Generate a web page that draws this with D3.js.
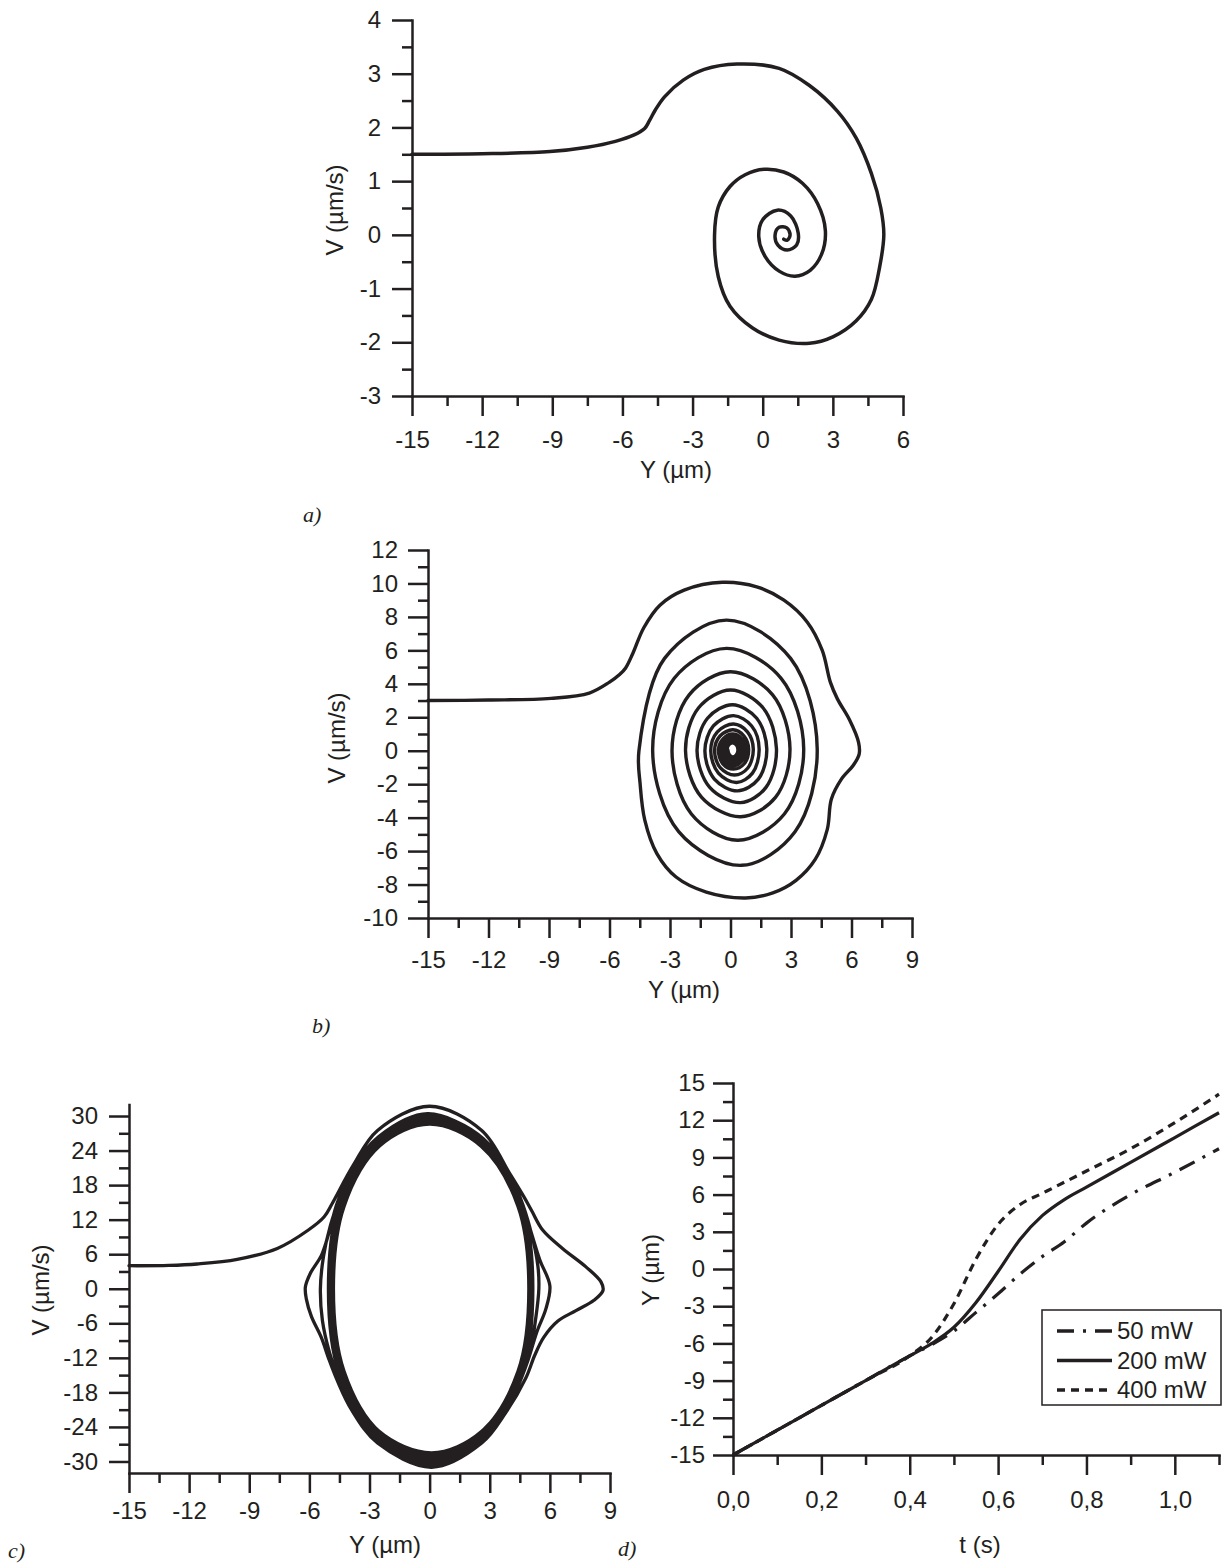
<!DOCTYPE html>
<html>
<head>
<meta charset="utf-8">
<script src="https://cdn.jsdelivr.net/npm/d3@7"></script>
<style>
  body { margin: 0; background: #fff; }
  svg text { font-family: "Liberation Sans", Arial, sans-serif; fill: #231f20; }
</style>
</head>
<body>
<svg id="fig" width="1226" height="1565"></svg>
<script>
// ---- data: phase trajectories [Y (um), V (um/s)] ----
var spiralA = [
  [-15,1.5],[-12,1.51],[-9.1,1.55],[-7.5,1.63],[-6.3,1.74],[-5.5,1.86],[-5.05,1.98],[-4.85,2.12],
  [-4.6,2.32],[-4.2,2.57],[-3.4,2.88],[-2.5,3.08],[-1.1,3.18],[0.7,3.1],[2.0,2.78],[3.2,2.3],
  [4.0,1.8],[4.65,1.14],[5.05,0.5],[5.18,0.0],[5.0,-0.6],[4.65,-1.2],[4.0,-1.6],[3.0,-1.9],
  [2.0,-2.02],[0.7,-1.96],[-0.45,-1.73],[-1.4,-1.33],[-1.9,-0.78],[-2.06,0.0],[-1.9,0.52],
  [-1.4,0.9],[-0.75,1.12],[0.07,1.22],[0.9,1.17],[1.7,0.96],[2.35,0.58],[2.68,0.08],[2.52,-0.36],
  [2.03,-0.66],[1.38,-0.77],[0.72,-0.68],[0.1,-0.4],[-0.17,-0.03],[0.0,0.28],[0.62,0.46],
  [1.2,0.35],[1.52,0.03],[1.45,-0.19],[1.05,-0.28],[0.65,-0.19],[0.53,0.0],[0.7,0.14],
  [1.03,0.13],[1.17,0.0],[1.05,-0.1],[0.9,-0.08]
];

var spiralB = [
  [-15,3.0],[-12,3.03],[-8.9,3.13],[-7,3.45],[-6,4.1],[-5.5,4.55],[-5.2,4.95],[-4.85,5.8],
  [-4.3,7.35],[-3.5,8.7],[-2.3,9.6],[-0.4,10.07],[1.3,9.8],[2.65,9.0],[3.8,7.7],[4.55,6.0],
  [4.95,4.1],[5.3,3.1],[5.9,1.85],[6.35,0.5],[6.38,-0.2],[6.1,-0.85],[5.5,-1.7],[5.0,-2.9],
  [4.8,-4.7],[4.2,-6.5],[3.25,-7.75],[2.1,-8.5],[0.75,-8.8],[-1.2,-8.45],[-2.7,-7.55],
  [-3.65,-6.15],[-4.25,-4.15],[-4.48,-2.0],[-4.54,0.0],
  [-3.27,5.52],[-0.2,7.81],[2.98,5.52],[4.3,0.1],[3.2,-4.84],[0.55,-6.85],[-2.57,-4.84],
  [-3.86,0.0],[-2.79,4.33],[-0.2,6.12],[2.51,4.33],[3.63,0.1],[2.67,-3.78],[0.36,-5.35],[-1.94,-3.78],
  [-2.9,0.0],[-2.05,3.34],[0.0,4.72],[2.09,3.34],[2.95,0.1],[2.23,-2.79],[0.5,-3.95],[-1.43,-2.79],
  [-2.23,0.0],[-1.58,2.57],[0.0,3.63],[1.61,2.57],[2.28,0.1],[1.76,-2.19],[0.5,-3.1],[-1.03,-2.19],
  [-1.66,0.0],[-1.14,1.94],[0.1,2.75],[1.3,1.94],[1.8,0.1],[1.38,-1.7],[0.35,-2.4],[-0.8,-1.7],
  [-1.27,0.0],[-0.85,1.48],[0.15,2.1],[1.05,1.48],[1.42,0.1],[1.09,-1.34],[0.3,-1.9],[-0.6,-1.34],
  [-0.98,0.0],[-0.65,1.13],[0.15,1.6],[0.84,1.13],[1.13,0.1],[0.86,-1.03],[0.2,-1.45],[-0.5,-1.03],
  [-0.79,0.0],[-0.52,0.88],[0.12,1.25],[0.67,0.88],[0.9,0.1],[0.68,-0.78],[0.15,-1.1],[-0.38,-0.78],
  [-0.6,0.05],[-0.36,0.72],[0.1,1.0],[0.56,0.72],[0.75,0.05],[0.56,-0.62],[0.1,-0.9],[-0.32,-0.58],
  [-0.47,0.05],[-0.29,0.63],[0.1,0.87],[0.49,0.63],[0.65,0.05],[0.49,-0.53],[0.1,-0.77],[-0.23,-0.44],
  [-0.37,0.05],[-0.23,0.54],[0.1,0.75],[0.43,0.54],[0.57,0.05],[0.43,-0.44],[0.1,-0.65],[-0.18,-0.37],
  [-0.3,0.05],[-0.18,0.47],[0.1,0.65],[0.38,0.47],[0.5,0.05],[0.38,-0.37],[0.1,-0.55],[-0.13,-0.3],
  [-0.23,0.05],[-0.13,0.4],[0.1,0.55],[0.33,0.4],[0.43,0.05],[0.33,-0.3],[0.1,-0.45],[-0.09,-0.24],
  [-0.17,0.05],[-0.09,0.34],[0.1,0.47],[0.29,0.34],[0.37,0.05],[0.29,-0.24],[0.1,-0.37],[-0.07,-0.2],
  [-0.13,0.05]
];

var spiralC = [
  [-15,4.0],[-13,4.05],[-11.6,4.3],[-9.6,5.1],[-7.6,7.0],[-6.05,10.2],[-5.26,12.5],[-4.86,14.8],
  [-3.8,21.5],[-2.6,27.5],[0.0,31.7],
  [2.6,27.5],[4.0,20.0],[4.7,16.0],[5.1,13.5],[5.64,10.2],[6.63,7.0],
  [7.8,3.8],[8.55,1.2],[8.65,-0.3],[8.2,-2.0],[7.3,-3.8],[6.4,-5.6],[5.7,-8.4],[5.25,-11.5],
  [4.8,-15.5],[3.8,-21.5],[2.6,-26.8],[0.1,-31.0],
  [-2.6,-26.8],[-3.9,-21],[-4.6,-16],[-5.05,-12],[-5.4,-8.5],[-5.9,-4.8],[-6.15,-1.8],[-6.2,0.3],
  [-5.95,2.7],[-5.4,5.8],[-5.0,10.0],[-4.6,15],[-3.8,21],[-2.55,26.4],[-0.1,30.4],
  [2.55,26.4],[3.9,20.5],[4.6,15],[5.05,10],[5.5,5],[6.0,0.5],
  [5.8,-3.5],[5.35,-7.5],[4.9,-12.5],[4.4,-17],[3.8,-21],[2.55,-26.4],[0.1,-30.5],
  [-2.55,-26.3],[-3.85,-21],[-4.5,-16],[-5.0,-11],[-5.35,-5.5],[-5.45,0.0],
  [-5.3,5.5],[-4.95,11],[-4.45,16],[-3.8,21],[-2.55,26.2],[0.0,30.2],[2.55,26.2],[3.8,21],
  [4.5,16],[5.05,10],[5.4,4],[5.45,0.0],[5.3,-5],[5.0,-11],[4.45,-16],[3.8,-21],[2.55,-26.1],
  [0.1,-30.1],
  [-2.63,-26.07],[-4.49,-15.05],[-5.05,0],[-4.49,15.05],[-2.63,26.07],[0,30.1],
  [2.68,26.07],[4.58,15.05],[5.15,0],[4.58,-15.05],[2.68,-26.07],[0.1,-29.7],
  [-2.57,-25.72],[-4.41,-14.85],[-4.95,0],[-4.41,14.8],[-2.57,25.63],[0,29.6],
  [2.65,25.63],[4.54,14.8],[5.1,0],[4.54,-14.85],[2.65,-25.72],[0.1,-29.2],
  [-2.52,-25.29],[-4.32,-14.6],[-4.85,0],[-4.32,14.5],[-2.52,25.11],[0,29.0],
  [2.6,25.11],[4.45,14.5],[5.0,0],[4.45,-14.6],[2.6,-25.29],[0.1,-28.7],
  [-2.5,-24.85],[-4.27,-14.35],[-4.8,0],[-4.27,14.3],[-2.5,24.77],[0,28.6],
  [2.57,24.77],[4.41,14.3],[4.95,0],[4.41,-14.35],[2.57,-24.85],[0.1,-28.5],
  [-2.55,-24.68],[-4.36,-14.25],[-4.9,0],[-4.36,14.45],[-2.55,25.03],[0,28.9],
  [2.63,25.03],[4.49,14.45],[5.05,0],[4.49,-14.25],[2.63,-24.68],[0.1,-29.0],
  [-2.6,-25.11],[-4.45,-14.5],[-5.0,0],[-4.45,14.7],[-2.6,25.46],[0,29.4],
  [2.65,25.46],[4.54,14.7],[5.1,0],[4.54,-14.5],[2.65,-25.11],[0.1,-29.5],
  [-2.57,-25.55],[-4.41,-14.75],[-4.95,0],[-4.41,14.9],[-2.57,25.81],[0,29.8],
  [2.63,25.81],[4.49,14.9],[5.05,0],[4.49,-14.75],[2.63,-25.55],[0.1,-29.9],
  [-2.52,-25.89],[-4.32,-14.95],[-4.85,0],[-4.32,14.6],[-2.52,25.29],[0,29.2],
  [2.57,25.29],[4.41,14.6],[4.95,0],[4.41,-14.95],[2.57,-25.89],[0.1,-29.6]
];

// ---- data: Y(t) for three laser powers ----
var powerNames = ['50 mW', '200 mW', '400 mW'];
var tValues  = [0, 0.1, 0.2, 0.3, 0.4, 0.45, 0.5, 0.55, 0.6, 0.65, 0.7, 0.75, 0.8, 0.9, 1.0, 1.1];
var y50mW    = [-15, -13, -11, -9, -7, -6.1, -5.0, -3.5, -2.0, -0.4, 1.0, 2.2, 3.7, 6.0, 7.8, 9.7];
var y200mW   = [-15, -13, -11, -9, -7, -6.0, -4.7, -2.7, -0.2, 2.4, 4.3, 5.6, 6.6, 8.6, 10.6, 12.6];
var y400mW   = [-15, -13, -11, -9, -7, -5.5, -2.8, 0.8, 3.6, 5.2, 6.1, 7.0, 7.9, 9.7, 11.8, 14.1];

// ---- tick labels ----
var phaseXTicks = [-15, -12, -9, -6, -3, 0, 3, 6, 9];
var aXTicks = [-15, -12, -9, -6, -3, 0, 3, 6];
var aYTicks = [-3, -2, -1, 0, 1, 2, 3, 4];
var bYTicks = [-10, -8, -6, -4, -2, 0, 2, 4, 6, 8, 10, 12];
var cYTicks = [-30, -24, -18, -12, -6, 0, 6, 12, 18, 24, 30];
var dXTicks = [0, 0.2, 0.4, 0.6, 0.8, 1.0];
var dYTicks = [-15, -12, -9, -6, -3, 0, 3, 6, 9, 12, 15];

var ink = '#231f20';
var fontPx = 24;
var svg = d3.select('#fig');

var plain = function(d) { return String(d); };
var comma = function(d) { return d3.format('.1f')(d).replace('.', ','); };

// minor tick halfway between major ticks
function midpoints(ticks, extra) {
  var out = [];
  for (var i = 0; i < ticks.length - 1; i++) out.push((ticks[i] + ticks[i + 1]) / 2);
  if (extra !== undefined) out.push(extra);
  return out;
}

function styleAxis(g) {
  g.attr('font-size', null).attr('font-family', null);
  g.selectAll('path, line').attr('stroke', ink).attr('stroke-width', 2.5);
  g.selectAll('path').attr('stroke-linecap', 'square');
  g.selectAll('text').attr('font-size', fontPx).attr('fill', ink);
}

// Draw one panel: axes, ticks, titles
function drawPanel(p) {
  var x = d3.scaleLinear().domain(p.xDomain).range(p.xRange);
  var y = d3.scaleLinear().domain(p.yDomain).range(p.yRange);
  var g = svg.append('g');
  var x0 = p.xRange[0], y0 = p.yRange[0];

  var gxm = g.append('g').attr('transform', 'translate(0,' + y0 + ')')
    .call(d3.axisBottom(x).tickValues(p.xMinor).tickSize(10).tickFormat(''));
  var gym = g.append('g').attr('transform', 'translate(' + x0 + ',0)')
    .call(d3.axisLeft(y).tickValues(p.yMinor).tickSize(10).tickFormat(''));
  gxm.select('.domain').remove();
  gym.select('.domain').remove();
  styleAxis(gxm); styleAxis(gym);

  var gx = g.append('g').attr('transform', 'translate(0,' + y0 + ')')
    .call(d3.axisBottom(x).tickValues(p.xTicks).tickSize(20).tickSizeOuter(0)
      .tickPadding(p.xPad).tickFormat(p.xFmt || plain));
  var gy = g.append('g').attr('transform', 'translate(' + x0 + ',0)')
    .call(d3.axisLeft(y).tickValues(p.yTicks).tickSize(20).tickSizeOuter(0)
      .tickPadding(p.yPad).tickFormat(plain));
  styleAxis(gx); styleAxis(gy);

  g.append('text').attr('x', p.xTitle[0]).attr('y', p.xTitle[1])
    .attr('text-anchor', 'middle').attr('font-size', fontPx).text(p.xLabel);
  g.append('text')
    .attr('transform', 'translate(' + p.yTitle[0] + ',' + p.yTitle[1] + ') rotate(-90)')
    .attr('dy', '0.35em').attr('text-anchor', 'middle').attr('font-size', fontPx).text(p.yLabel);
  g.append('text').attr('x', p.tag[0]).attr('y', p.tag[1])
    .attr('font-size', 22).attr('font-style', 'italic')
    .style('font-family', '"Liberation Serif", "Times New Roman", serif')
    .text(p.tagText);

  return { g: g, x: x, y: y };
}

function drawTrajectory(panel, pts, width) {
  var line = d3.line()
    .x(function(d) { return panel.x(d[0]); })
    .y(function(d) { return panel.y(d[1]); })
    .curve(d3.curveCatmullRom.alpha(0.5));
  panel.g.append('path').datum(pts)
    .attr('d', line).attr('fill', 'none').attr('stroke', ink)
    .attr('stroke-width', width).attr('stroke-linejoin', 'round').attr('stroke-linecap', 'round');
}

// ---- panel a ----
var pa = drawPanel({
  xDomain: [-15, 6], xRange: [412, 903], yDomain: [-3, 4], yRange: [396, 20],
  xTicks: aXTicks, xMinor: midpoints(aXTicks),
  yTicks: aYTicks, yMinor: midpoints(aYTicks), xPad: 15, yPad: 11,
  xLabel: 'Y (\u00b5m)', yLabel: 'V (\u00b5m/s)', xTitle: [676, 478], yTitle: [335, 210],
  tag: [303, 522], tagText: 'a)'
});
drawTrajectory(pa, spiralA, 3.5);

// ---- panel b ----
var pb = drawPanel({
  xDomain: [-15, 9], xRange: [428, 912], yDomain: [-10, 12], yRange: [918, 550],
  xTicks: phaseXTicks, xMinor: midpoints(phaseXTicks),
  yTicks: bYTicks, yMinor: midpoints(bYTicks), xPad: 13, yPad: 10,
  xLabel: 'Y (\u00b5m)', yLabel: 'V (\u00b5m/s)', xTitle: [684, 998], yTitle: [337, 738],
  tag: [312, 1033], tagText: 'b)'
});
drawTrajectory(pb, spiralB, 3.4);

// ---- panel c ----
var pc = drawPanel({
  xDomain: [-15, 9], xRange: [129, 610], yDomain: [-32, 32], yRange: [1473, 1104.5],
  xTicks: phaseXTicks, xMinor: midpoints(phaseXTicks),
  yTicks: cYTicks, yMinor: midpoints(cYTicks), xPad: 9, yPad: 11,
  xLabel: 'Y (\u00b5m)', yLabel: 'V (\u00b5m/s)', xTitle: [385, 1553], yTitle: [41, 1290],
  tag: [8, 1558], tagText: 'c)'
});
drawTrajectory(pc, spiralC, 3.3);

// ---- panel d ----
var pd = drawPanel({
  xDomain: [0, 1.1], xRange: [733, 1219], yDomain: [-15, 15], yRange: [1455, 1083],
  xTicks: dXTicks, xMinor: midpoints(dXTicks, 1.1), xFmt: comma,
  yTicks: dYTicks, yMinor: midpoints(dYTicks), xPad: 16, yPad: 8,
  xLabel: 't (s)', yLabel: 'Y (\u00b5m)', xTitle: [980, 1553], yTitle: [651, 1270],
  tag: [618, 1556], tagText: 'd)'
});

var dashes = ['17,9,3,9', null, '8,6'];
var seriesD = [y50mW, y200mW, y400mW];
var lineD = d3.line()
  .x(function(d) { return pd.x(d[0]); })
  .y(function(d) { return pd.y(d[1]); })
  .curve(d3.curveMonotoneX);

seriesD.forEach(function(vals, i) {
  var pts = tValues.map(function(t, k) { return [t, vals[k]]; });
  pd.g.append('path').datum(pts)
    .attr('d', lineD).attr('fill', 'none').attr('stroke', ink)
    .attr('stroke-width', 3.2).attr('stroke-dasharray', dashes[i]);
});

// legend
var leg = pd.g.append('g').attr('transform', 'translate(1042,1310)');
leg.append('rect').attr('width', 179).attr('height', 95)
  .attr('fill', '#fff').attr('stroke', ink).attr('stroke-width', 1.5);
powerNames.forEach(function(name, i) {
  var yy = 21 + i * 29.5;
  leg.append('line').attr('x1', 15).attr('x2', 70).attr('y1', yy).attr('y2', yy)
    .attr('stroke', ink).attr('stroke-width', 3.5).attr('stroke-dasharray', dashes[i]);
  leg.append('text').attr('x', 75).attr('y', yy + 8).attr('font-size', fontPx).text(name);
});
</script>
</body>
</html>
